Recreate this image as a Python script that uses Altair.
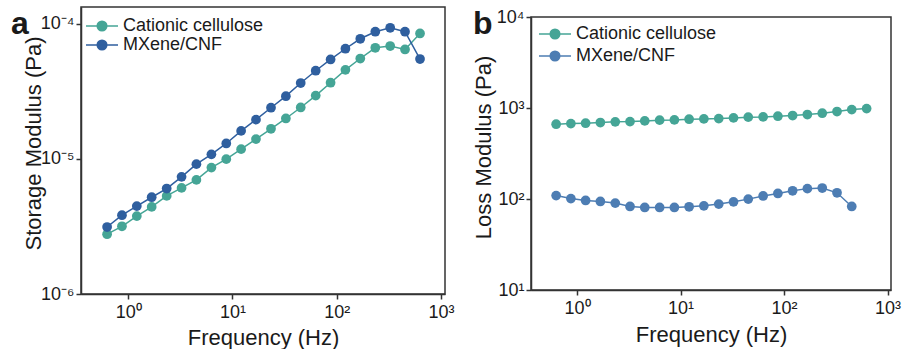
import altair as alt
import pandas as pd

# ---- data ----
freq = [0.628, 0.872, 1.21, 1.68, 2.34, 3.25, 4.51, 6.28, 8.72, 12.1, 16.8,
        23.4, 32.5, 45.1, 62.8, 87.2, 121, 168, 234, 325, 451, 628]

storage_cationic = [2.77e-6, 3.17e-6, 3.77e-6, 4.41e-6, 5.32e-6, 6.10e-6, 6.99e-6,
                    8.62e-6, 9.95e-6, 1.18e-5, 1.40e-5, 1.67e-5, 1.99e-5, 2.40e-5,
                    2.94e-5, 3.66e-5, 4.56e-5, 5.53e-5, 6.64e-5, 6.84e-5, 6.45e-5, 8.47e-5]
storage_mxene = [3.13e-6, 3.83e-6, 4.47e-6, 5.20e-6, 6.03e-6, 7.36e-6, 9.14e-6,
                 1.08e-5, 1.30e-5, 1.61e-5, 1.95e-5, 2.39e-5, 2.91e-5, 3.64e-5,
                 4.49e-5, 5.44e-5, 6.53e-5, 7.74e-5, 8.73e-5, 9.33e-5, 8.73e-5, 5.48e-5]

loss_cationic = [664, 674, 681, 692, 704, 709, 721, 735, 740, 753, 759, 765,
                 778, 793, 798, 813, 826, 847, 877, 914, 961, 985]
loss_mxene = [109, 101, 96.3, 93.9, 90.2, 82.8, 80.7, 80.7, 80.7, 82.1, 84.1,
              87.9, 93.1, 99.7, 108, 115, 123, 130, 132, 117, 82.8]

series = ["Cationic cellulose", "MXene/CNF"]
colors_a = ["#45A596", "#2F5F9F"]
colors_b = ["#45A596", "#4D7DB3"]

x_ticks = [1, 10, 100, 1000]
ya_ticks = [1e-6, 1e-5, 1e-4]
yb_ticks = [10, 100, 1000, 10000]

FONT = "Liberation Sans"


def long_table(c, m):
    rows = [{"f": f, "v": v, "s": series[0]} for f, v in zip(freq, c)]
    rows += [{"f": f, "v": v, "s": series[1]} for f, v in zip(freq, m)]
    return pd.DataFrame(rows)


SUP = "['\u2070','\u00b9','\u00b2','\u00b3','\u2074','\u2075','\u2076','\u2077','\u2078','\u2079']"
EXP = "round(log(datum.value)/LN10)"
LABEL_EXPR = "'10' + (" + EXP + " < 0 ? '\u207b' : '') + " + SUP + "[abs(" + EXP + ")]"

SYMBOL = "M-2,0H2M0.6,0A0.6,0.6,0,1,1,-0.6,0A0.6,0.6,0,1,1,0.6,0"


def panel(df, colors, xdom, ydom, yvals, ytitle, letter, lx, ly, w, h,
          legx, legy, rowpad, ytitle_y, xtitle_y):
    color = alt.Color(
        "s:N",
        scale=alt.Scale(domain=series, range=colors),
        legend=alt.Legend(title=None, orient="none", legendX=legx, legendY=legy,
                          symbolType=SYMBOL, symbolSize=256, symbolStrokeWidth=1.5,
                          labelFontSize=18, labelFont=FONT, labelColor="#1a1a1a",
                          rowPadding=rowpad, labelOffset=12, padding=0),
    )
    x = alt.X("f:Q", scale=alt.Scale(type="log", domain=xdom),
              axis=alt.Axis(values=x_ticks, labelExpr=LABEL_EXPR, title="Frequency (Hz)",
                            titleBaseline="alphabetic", titleY=xtitle_y, titleX=w / 2,
                            labelPadding=4))
    y = alt.Y("v:Q", scale=alt.Scale(type="log", domain=ydom),
              axis=alt.Axis(values=yvals, labelExpr=LABEL_EXPR, title=ytitle,
                            titleBaseline="alphabetic", titleX=-41, titleY=ytitle_y,
                            labelPadding=2))
    base = alt.Chart(df).encode(x=x, y=y, color=color, order="f:Q")
    line = base.mark_line(strokeWidth=1.5)
    pts = base.mark_point(filled=True, size=95, opacity=1)
    lab = pd.DataFrame({"t": [letter]})
    txt = alt.Chart(lab).mark_text(
        font=FONT, fontSize=32, fontWeight="bold", align="left", baseline="alphabetic",
        color="#1a1a1a"
    ).encode(text="t:N", x=alt.value(lx), y=alt.value(ly))
    return alt.layer(line, pts, txt).properties(width=w, height=h)


pa = panel(long_table(storage_cationic, storage_mxene), colors_a,
           [0.353, 1090], [1e-6, 1.33e-4], ya_ticks, "Storage Modulus (Pa)",
           "a", -70, 27, 364, 287, 12, 10, 1, 136, 50)
# panel b's legend is placed relative to its column (spacer + panel)
pb = panel(long_table(loss_cationic, loss_mxene), colors_b,
           [0.359, 1080], [10, 1e4], yb_ticks, "Loss Modulus (Pa)",
           "b", -58, 17, 360, 273, 15, 18, 4, 130, 51)

# empty strip above panel b so that its frame starts lower than panel a's
spacer = alt.Chart(pd.DataFrame({"t": ["b"]})).mark_point(opacity=0, size=1).encode(
    x=alt.value(0), y=alt.value(0)
).properties(width=360, height=2, view=alt.ViewBackground(stroke="transparent"))

right = alt.vconcat(spacer, pb, spacing=-3)

chart = alt.hconcat(pa, right, spacing=16).resolve_scale(
    color="independent"
).configure(
    font=FONT, padding={"left": 10, "top": 5, "right": 0, "bottom": 0}
).configure_view(stroke="#333333", strokeWidth=1.5).configure_axis(
    grid=False, domainColor="#333333", domainWidth=1.5, tickColor="#333333",
    tickWidth=1.5, tickSize=5, labelFontSize=18, labelColor="#1a1a1a",
    labelFont=FONT, titleFont=FONT, titleFontSize=22, titleFontWeight="normal",
    titleColor="#1a1a1a"
)

chart.save("out.html", embed_options={"renderer": "svg", "actions": False})
